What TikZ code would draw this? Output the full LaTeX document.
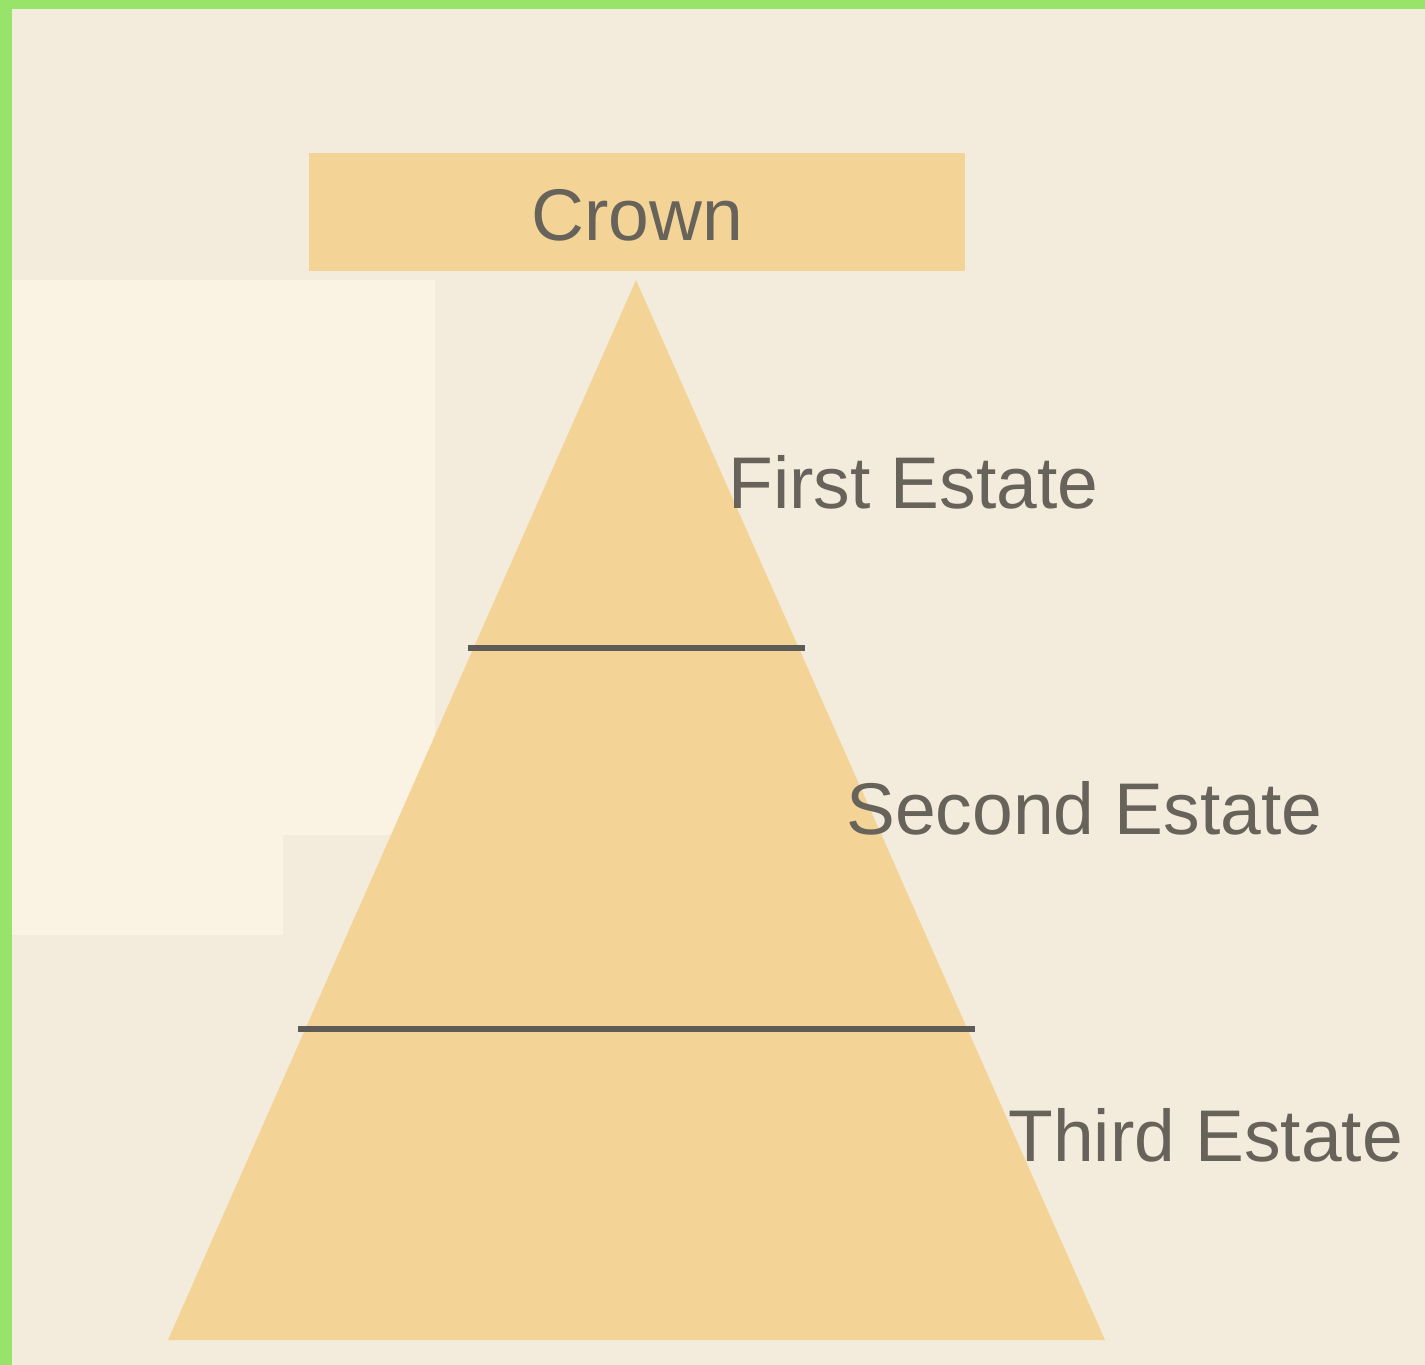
\documentclass[tikz,border=0pt]{standalone}
\usepackage{fontspec}
\setmainfont{Liberation Sans}
\usetikzlibrary{positioning,calc}
\definecolor{frame}{HTML}{98E36A}
\definecolor{paper}{HTML}{F3EBDB}
\definecolor{paperlight}{HTML}{FAF3E4}
\definecolor{tier}{HTML}{F4D496}
\definecolor{ink}{HTML}{67625A}
\definecolor{rule}{HTML}{5E5A55}
\begin{document}
\begin{tikzpicture}[x=0.5pt,y=-0.5pt,
  label/.style={font=\fontsize{36.6}{40}\selectfont,text=ink,inner sep=0pt,anchor=base west},
  divider/.style={rule,line width=3.3pt}]
\useasboundingbox (0,0) rectangle (1425,1365);
% page
\fill [frame] (0,0) rectangle (1425,1365);
\fill [paper] (12,9) rectangle (1425,1365);
\fill [paperlight] (12,280) -- (435,280) -- (435,835) -- (283,835) -- (283,935) -- (12,935) -- cycle;
% crown
\node (crown) [fill=tier,minimum width=328pt,minimum height=59pt,inner sep=0pt] at (637,212) {};
\node [label,anchor=base] at ($(crown.center)+(0,28)$) {Crown};
% pyramid
\coordinate (apex) at (636,280);
\coordinate (bl) at (168,1340);
\coordinate (br) at (1105,1340);
\fill [tier] (apex) -- (br) -- (bl) -- cycle;
\coordinate (d1l) at (468,648); \coordinate (d1r) at (805,648);
\coordinate (d2l) at (298,1029); \coordinate (d2r) at (975,1029);
\draw [divider] (d1l) -- (d1r);
\draw [divider] (d2l) -- (d2r);
% labels
\node (first) [label] at (728,508) {First Estate};
\node (second) [label] at (846,834) {Second Estate};
\node (third) [label] at (1008,1161) {Third Estate};
\end{tikzpicture}
\end{document}
